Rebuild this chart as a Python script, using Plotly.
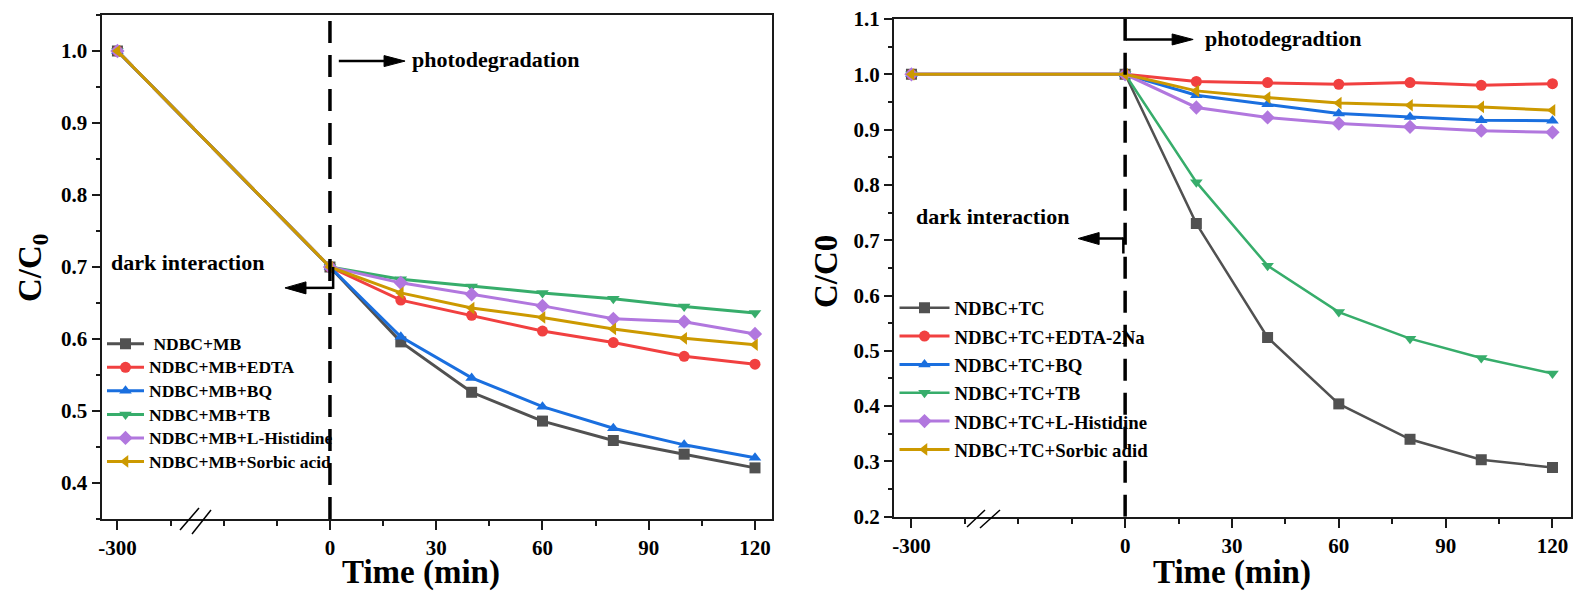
import plotly.graph_objects as go

# ---------------- data ----------------
time_min = [-300, 0, 20, 40, 60, 80, 100, 120]
x_tick_min = [-300, 0, 30, 60, 90, 120]
x_tick_text = ["-300", "0", "30", "60", "90", "120"]

mb_names = [" NDBC+MB", "NDBC+MB+EDTA", "NDBC+MB+BQ", "NDBC+MB+TB",
            "NDBC+MB+L-Histidine", "NDBC+MB+Sorbic acid"]
mb_plain = [1.0, 0.700, 0.596, 0.526, 0.486, 0.459, 0.440, 0.421]
mb_edta = [1.0, 0.700, 0.654, 0.633, 0.611, 0.595, 0.576, 0.565]
mb_bq = [1.0, 0.700, 0.603, 0.546, 0.506, 0.476, 0.453, 0.435]
mb_tb = [1.0, 0.700, 0.683, 0.673, 0.664, 0.656, 0.645, 0.636]
mb_his = [1.0, 0.700, 0.678, 0.662, 0.646, 0.628, 0.624, 0.607]
mb_sorbic = [1.0, 0.700, 0.664, 0.643, 0.630, 0.614, 0.601, 0.592]

tc_names = ["NDBC+TC", "NDBC+TC+EDTA-2Na", "NDBC+TC+BQ", "NDBC+TC+TB",
            "NDBC+TC+L-Histidine", "NDBC+TC+Sorbic adid"]
tc_plain = [1.0, 1.0, 0.730, 0.524, 0.404, 0.340, 0.303, 0.289]
tc_edta = [1.0, 1.0, 0.987, 0.985, 0.982, 0.985, 0.980, 0.983]
tc_bq = [1.0, 1.0, 0.962, 0.946, 0.929, 0.923, 0.917, 0.916]
tc_tb = [1.0, 1.0, 0.805, 0.654, 0.570, 0.522, 0.487, 0.459]
tc_his = [1.0, 1.0, 0.940, 0.922, 0.911, 0.905, 0.898, 0.895]
tc_sorbic = [1.0, 1.0, 0.970, 0.958, 0.948, 0.944, 0.941, 0.935]

colors = ["#515151", "#F14040", "#1A6FDF", "#37AD6B", "#B177DE", "#CC9900"]
symbols = ["square", "circle", "triangle-up", "triangle-down", "diamond", "triangle-left"]

# broken axis: the dark period (-300 min .. 0) is compressed 5x
BREAK = 5.0
def xmap(t):
    return t / BREAK if t < 0 else t

xs = [xmap(t) for t in time_min]
xticks = [xmap(t) for t in x_tick_min]

W, H = 1574, 593
FONT = "Liberation Serif"

def px_x(p):
    return p / W

def px_y(p):
    return 1 - p / H

# panel geometry (pixels) and ranges
L_dom_x = (101.5, 772.0); L_dom_y = (519.0, 15.0)
R_dom_x = (894.0, 1571.0); R_dom_y = (516.7, 19.0)
L_xr = [-64.5, 124.8]; L_yr = [0.35, 1.05]
R_xr = [-64.9, 125.2]; R_yr = [0.2, 1.1]

L_ppx = (L_dom_x[1] - L_dom_x[0]) / (L_xr[1] - L_xr[0])
L_ppy = (L_dom_y[0] - L_dom_y[1]) / (L_yr[1] - L_yr[0])
R_ppx = (R_dom_x[1] - R_dom_x[0]) / (R_xr[1] - R_xr[0])
R_ppy = (R_dom_y[0] - R_dom_y[1]) / (R_yr[1] - R_yr[0])

fig = go.Figure()

mb_series = [mb_plain, mb_edta, mb_bq, mb_tb, mb_his, mb_sorbic]
tc_series = [tc_plain, tc_edta, tc_bq, tc_tb, tc_his, tc_sorbic]

def legend_label(name, size):
    return '<span style="font-size:%spx">%s</span>' % (size, name)

for i, (name, ys) in enumerate(zip(mb_names, mb_series)):
    fig.add_trace(go.Scatter(
        x=xs, y=ys, name=legend_label(name, 17.5), mode="lines+markers",
        line=dict(color=colors[i], width=3),
        marker=dict(symbol=symbols[i], size=11, color=colors[i], line=dict(width=0)),
        xaxis="x", yaxis="y", legend="legend"))

tc_widths = [2.5, 3, 3, 2.5, 3, 3]
for i, (name, ys) in enumerate(zip(tc_names, tc_series)):
    fig.add_trace(go.Scatter(
        x=xs, y=ys, name=legend_label(name, 18.8), mode="lines+markers",
        line=dict(color=colors[i], width=tc_widths[i]),
        marker=dict(symbol=symbols[i], size=11, color=colors[i], line=dict(width=0)),
        xaxis="x2", yaxis="y2", legend="legend2"))

axis_common = dict(showline=True, linecolor="#1a1a1a", linewidth=2, mirror=True,
                   ticks="outside", tickwidth=2, tickcolor="#1a1a1a",
                   showgrid=False, zeroline=False, automargin=False,
                   tickfont=dict(family=FONT, size=21, color="black", weight="bold"))

xaxis_common = dict(axis_common, tickmode="array", tickvals=xticks, ticktext=x_tick_text,
                    ticklen=9,
                    minor=dict(tickmode="linear", tick0=0, dtick=15, ticklen=5,
                               tickwidth=2, tickcolor="#1a1a1a", ticks="outside",
                               showgrid=False))

fig.update_layout(
    width=W, height=H, autosize=False,
    margin=dict(l=0, r=0, t=0, b=0, autoexpand=False),
    paper_bgcolor="white", plot_bgcolor="white",
    xaxis=dict(xaxis_common, domain=[px_x(L_dom_x[0]), px_x(L_dom_x[1])], range=L_xr, anchor="y"),
    yaxis=dict(axis_common, domain=[px_y(L_dom_y[0]), px_y(L_dom_y[1])], range=L_yr, anchor="x",
               tickmode="linear", tick0=0.4, dtick=0.1, tickformat=".1f", ticklen=8,
               minor=dict(tickmode="linear", tick0=0.35, dtick=0.05, ticklen=4, tickwidth=2,
                          tickcolor="#1a1a1a", ticks="outside", showgrid=False)),
    xaxis2=dict(xaxis_common, domain=[px_x(R_dom_x[0]), px_x(R_dom_x[1])], range=R_xr, anchor="y2"),
    yaxis2=dict(axis_common, domain=[px_y(R_dom_y[0]), px_y(R_dom_y[1])], range=R_yr, anchor="x2",
                tickmode="linear", tick0=0.2, dtick=0.1, tickformat=".1f", ticklen=8,
                minor=dict(tickmode="linear", tick0=0.2, dtick=0.05, ticklen=4, tickwidth=2,
                           tickcolor="#1a1a1a", ticks="outside", showgrid=False)),
    legend=dict(x=px_x(102), y=px_y(327), xanchor="left", yanchor="top",
                bgcolor="rgba(0,0,0,0)", borderwidth=0, itemwidth=37,
                font=dict(family=FONT, size=15.8, color="black", weight="bold")),
    legend2=dict(x=px_x(894.5), y=px_y(288.5), xanchor="left", yanchor="top",
                 bgcolor="rgba(0,0,0,0)", borderwidth=0, itemwidth=50,
                 font=dict(family=FONT, size=19.5, color="black", weight="bold")),
    showlegend=True,
)

# dashed separators at t = 0
fig.add_shape(type="line", xref="x", yref="y", x0=xmap(0), x1=xmap(0), y0=L_yr[0], y1=L_yr[1] + 3 / L_ppy,
              line=dict(color="black", width=3.5, dash="22px,12px"))
fig.add_shape(type="line", xref="x2", yref="y2", x0=xmap(0), x1=xmap(0), y0=R_yr[0], y1=R_yr[1] + 3 / R_ppy,
              line=dict(color="black", width=3.5, dash="22px,12px"))

# axis break marks
for (x0, y0, x1, y1) in [(180, 530, 199, 508), (192, 534, 211, 510),
                         (967, 527, 985, 510), (980, 528, 1000, 510)]:
    fig.add_shape(type="line", xref="paper", yref="paper",
                  x0=px_x(x0), y0=px_y(y0), x1=px_x(x1), y1=px_y(y1),
                  line=dict(color="black", width=1.5))

def h_arrow(xref, yref, x_tail, x_head, y, ppx, ppy, head_len=21, half_w=5.5, width=2.5):
    direction = 1 if x_head > x_tail else -1
    xb = x_head - direction * head_len / ppx
    fig.add_shape(type="line", xref=xref, yref=yref, x0=x_tail, x1=xb + direction * 1 / ppx, y0=y, y1=y,
                  line=dict(color="black", width=width))
    hw = half_w / ppy
    fig.add_shape(type="path", xref=xref, yref=yref,
                  path="M %f,%f L %f,%f L %f,%f Z" % (x_head, y, xb, y + hw, xb, y - hw),
                  fillcolor="black", line=dict(color="black", width=1))

ann_font = dict(family=FONT, size=22, color="black", weight="bold")

# ---- left panel annotations
h_arrow("x", "y", 2.5, 21.2, 0.986, L_ppx, L_ppy)
fig.add_annotation(xref="x", yref="y", x=22.6, y=0.988, text="photodegradation",
                   showarrow=False, xanchor="left", yanchor="middle", font=ann_font)
fig.add_annotation(xref="x", yref="y", x=-62.3, y=0.706, text="dark interaction",
                   showarrow=False, xanchor="left", yanchor="middle", font=ann_font)
fig.add_shape(type="line", xref="x", yref="y", x0=0.9, x1=0.9, y0=0.700, y1=0.6695,
              line=dict(color="black", width=2.5))
h_arrow("x", "y", 0.9, -12.7, 0.671, L_ppx, L_ppy, half_w=6)

# ---- right panel annotations
h_arrow("x2", "y2", 0.3, 19.1, 1.063, R_ppx, R_ppy)
fig.add_annotation(xref="x2", yref="y2", x=21.9, y=1.064, text="photodegradtion",
                   showarrow=False, xanchor="left", yanchor="middle", font=ann_font)
fig.add_annotation(xref="x2", yref="y2", x=-59.3, y=0.743, text="dark interaction",
                   showarrow=False, xanchor="left", yanchor="middle", font=ann_font)
fig.add_shape(type="line", xref="x2", yref="y2", x0=-0.5, x1=-0.5, y0=0.705, y1=0.676,
              line=dict(color="black", width=2.5))
h_arrow("x2", "y2", -0.5, -13.2, 0.703, R_ppx, R_ppy, half_w=6)

# ---- axis titles (as annotations for exact placement)
title_font = dict(family=FONT, size=33, color="black", weight="bold")
fig.add_annotation(xref="paper", yref="paper", x=px_x(421), y=0, text="Time (min)",
                   showarrow=False, xanchor="center", yanchor="bottom", font=title_font)
fig.add_annotation(xref="paper", yref="paper", x=px_x(1232), y=0, text="Time (min)",
                   showarrow=False, xanchor="center", yanchor="bottom", font=title_font)
fig.add_annotation(xref="paper", yref="paper", x=px_x(32), y=px_y(268), text="C/C<sub>0</sub>",
                   textangle=-90, showarrow=False, xanchor="center", yanchor="middle", font=title_font)
fig.add_annotation(xref="paper", yref="paper", x=px_x(826), y=px_y(272), text="C/C0",
                   textangle=-90, showarrow=False, xanchor="center", yanchor="middle", font=title_font)

fig.write_html("out.html")
